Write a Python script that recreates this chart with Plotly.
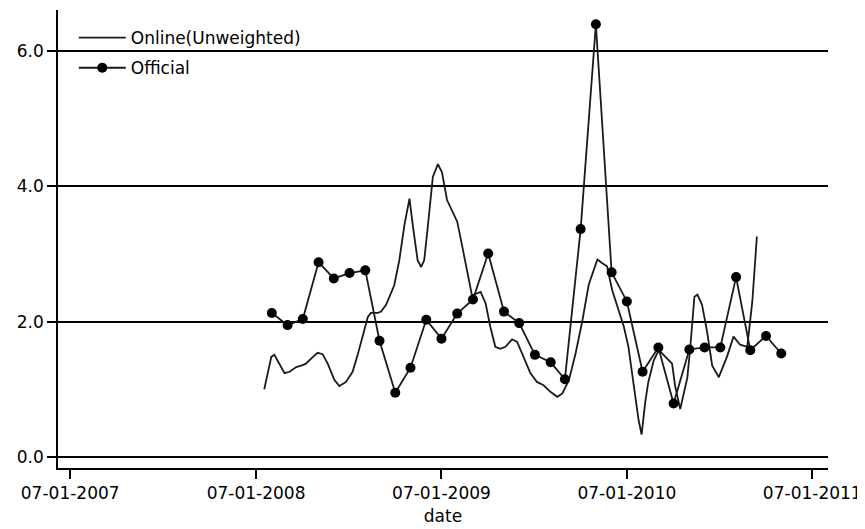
import plotly.graph_objects as go

# Official series (monthly)
official_dates = [
    "2008-08-01", "2008-09-01", "2008-10-01", "2008-11-01", "2008-12-01",
    "2009-01-01", "2009-02-01", "2009-03-01", "2009-04-01", "2009-05-01", "2009-06-01",
    "2009-07-01", "2009-08-01", "2009-09-01", "2009-10-01", "2009-11-01", "2009-12-01",
    "2010-01-01", "2010-02-01", "2010-03-01", "2010-04-01", "2010-05-01", "2010-06-01",
    "2010-07-01", "2010-08-01", "2010-09-01", "2010-10-01", "2010-11-01", "2010-12-01",
    "2011-01-01", "2011-02-01", "2011-03-01", "2011-04-01", "2011-05-01",
]
official_values = [
    2.13, 1.95, 2.04, 2.88, 2.64,
    2.72, 2.76, 1.72, 0.95, 1.32, 2.03,
    1.75, 2.12, 2.33, 3.01, 2.15, 1.98,
    1.51, 1.40, 1.15, 3.37, 6.40, 2.73,
    2.30, 1.26, 1.62, 0.79, 1.59, 1.62,
    1.62, 2.66, 1.58, 1.79, 1.53,
]

# Online (Unweighted) series
online_dates = [
    "2008-07-17", "2008-07-25", "2008-07-31", "2008-08-06", "2008-08-15", "2008-08-26",
    "2008-09-05", "2008-09-18", "2008-09-28", "2008-10-07", "2008-10-21", "2008-10-30",
    "2008-11-09", "2008-11-19", "2008-12-02", "2008-12-12", "2008-12-25", "2009-01-07",
    "2009-01-17", "2009-01-27", "2009-02-06", "2009-02-12", "2009-02-26", "2009-03-04",
    "2009-03-14", "2009-03-30", "2009-04-09", "2009-04-19", "2009-04-29", "2009-05-06",
    "2009-05-15", "2009-05-22", "2009-05-28", "2009-06-04", "2009-06-14", "2009-06-24",
    "2009-07-02", "2009-07-12", "2009-07-22", "2009-08-01", "2009-08-11", "2009-08-21",
    "2009-08-30", "2009-09-09", "2009-09-16", "2009-09-26", "2009-10-05", "2009-10-15",
    "2009-10-25", "2009-11-04", "2009-11-17", "2009-11-27", "2009-12-10", "2009-12-23",
    "2010-01-05", "2010-01-18", "2010-02-01", "2010-02-14", "2010-02-24", "2010-03-09",
    "2010-03-22", "2010-04-04", "2010-04-17", "2010-05-04", "2010-05-13", "2010-05-23",
    "2010-06-02", "2010-06-15", "2010-06-25", "2010-07-04", "2010-07-14", "2010-07-18",
    "2010-07-24", "2010-07-30", "2010-08-06", "2010-08-12", "2010-08-23", "2010-09-02",
    "2010-09-15", "2010-09-28", "2010-10-04", "2010-10-14", "2010-10-28", "2010-11-03",
    "2010-11-11", "2010-11-17", "2010-11-26", "2010-12-06", "2010-12-16", "2010-12-29",
    "2011-01-14", "2011-01-27", "2011-02-09", "2011-02-23", "2011-03-05", "2011-03-14",
]
online_values = [
    1.00, 1.30, 1.48, 1.51, 1.38, 1.24,
    1.26, 1.33, 1.35, 1.38, 1.48, 1.54,
    1.52, 1.38, 1.14, 1.05, 1.11, 1.26,
    1.51, 1.78, 2.07, 2.13, 2.13, 2.15,
    2.25, 2.54, 2.91, 3.43, 3.82, 3.40,
    2.91, 2.81, 2.91, 3.40, 4.14, 4.33,
    4.21, 3.80, 3.63, 3.48, 3.11, 2.71,
    2.39, 2.42, 2.44, 2.27, 1.93, 1.63,
    1.60, 1.63, 1.74, 1.70, 1.48, 1.24,
    1.11, 1.06, 0.96, 0.89, 0.94, 1.14,
    1.53, 2.00, 2.55, 2.92, 2.87, 2.82,
    2.47, 2.17, 1.93, 1.63, 1.10, 0.84,
    0.55, 0.33, 0.80, 1.10, 1.43, 1.58,
    1.48, 1.38, 1.05, 0.71, 1.17, 1.63,
    2.37, 2.40, 2.25, 1.85, 1.35, 1.18,
    1.48, 1.78, 1.66, 1.63, 2.30, 3.26,
]

x_tick_vals = ["2007-07-01", "2008-07-01", "2009-07-01", "2010-07-01", "2011-07-01"]
x_tick_text = ["07-01-2007", "07-01-2008", "07-01-2009", "07-01-2010", "07-01-2011"]
y_tick_vals = [0, 2, 4, 6]

FONT = "DejaVu Sans, sans-serif"
FS = 17

fig = go.Figure()
fig.add_trace(go.Scatter(
    x=online_dates, y=online_values, mode="lines", name="Online(Unweighted)",
    line=dict(color="#1a1a1a", width=1.8), legendgroup="a",
))
fig.add_trace(go.Scatter(
    x=official_dates, y=official_values, mode="lines+markers", name="Official",
    line=dict(color="#1a1a1a", width=1.8),
    marker=dict(color="black", size=10, symbol="circle"), legendgroup="b",
))

fig.update_layout(
    width=857, height=521,
    margin=dict(l=50, r=37, t=2, b=61),
    paper_bgcolor="white", plot_bgcolor="white",
    font=dict(family=FONT, size=FS, color="black"),
    showlegend=True,
    legend=dict(
        x=0.0205, y=0.978, xanchor="left", yanchor="top",
        bgcolor="rgba(0,0,0,0)", borderwidth=0,
        font=dict(family=FONT, size=FS, color="black"),
        tracegroupgap=5, itemwidth=47,
    ),
    xaxis=dict(
        range=["2007-06-07", "2011-08-01"],
        tickmode="array", tickvals=x_tick_vals, ticktext=x_tick_text,
        ticks="outside", ticklen=9, tickwidth=1.5, tickcolor="black",
        showline=True, linecolor="black", linewidth=1.5,
        showgrid=False, zeroline=False,
        title=dict(text="date", font=dict(family=FONT, size=FS), standoff=8),
        tickfont=dict(family=FONT, size=FS),
    ),
    yaxis=dict(
        range=[-0.163, 6.61],
        tickmode="array", tickvals=y_tick_vals, tickformat=".1f",
        ticks="outside", ticklen=9, tickwidth=1.5, tickcolor="black",
        showline=True, linecolor="black", linewidth=1.5,
        showgrid=True, gridcolor="black", gridwidth=1.5,
        zeroline=False,
        tickfont=dict(family=FONT, size=FS),
    ),
)

fig.write_html("out.html")
